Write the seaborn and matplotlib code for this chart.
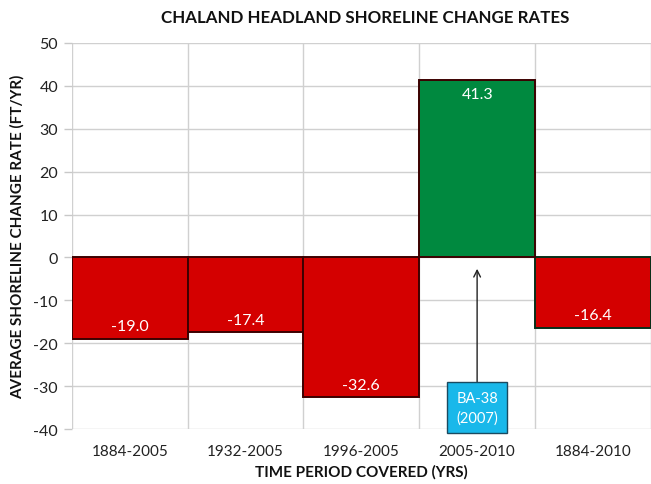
import matplotlib
matplotlib.use("Agg")
import matplotlib.pyplot as plt
import seaborn as sns
import pandas as pd

periods = ["1884-2005", "1932-2005", "1996-2005", "2005-2010", "1884-2010"]
rates = [-19.0, -17.4, -32.6, 41.3, -16.4]
y_ticks = [-40, -30, -20, -10, 0, 10, 20, 30, 40, 50]

title = "CHALAND HEADLAND SHORELINE CHANGE RATES"
x_label = "TIME PERIOD COVERED (YRS)"
y_label = "AVERAGE SHORELINE CHANGE RATE (FT/YR)"
callout_text = "BA-38\n(2007)"
callout_period = "2005-2010"
callout_box_y = -35.0
callout_tip_y = -2.0

RED = "#d40000"
GREEN = "#00893f"
CYAN = "#19b8ea"

df = pd.DataFrame({"period": periods, "rate": rates})
df["sign"] = ["gain" if r > 0 else "loss" for r in rates]

sns.set_theme(style="white")
plt.rcParams["font.family"] = ["Lato", "DejaVu Sans"]

fig = plt.figure(figsize=(6.51, 4.85), dpi=100)
ax = fig.add_axes([0.1106, 0.1134, 0.889, 0.7959])

sns.barplot(data=df, x="period", y="rate", hue="sign",
            palette={"loss": RED, "gain": GREEN}, width=1.0, saturation=1,
            dodge=False, legend=False, ax=ax, zorder=3, linewidth=1.4)

for patch, r in zip(ax.patches, rates):
    patch.set_edgecolor("#06301a" if r > 0 else "#3c0000")

ax.set_ylim(-40, 50)
ax.set_xlim(-0.5, len(periods) - 0.5)
ax.set_yticks(y_ticks)
ax.set_yticklabels([str(t) for t in y_ticks], fontsize=11.5, color="#222222")
ax.set_xticks(range(len(periods)))
ax.set_xticklabels(periods, fontsize=11, color="#222222")
ax.set_xticks([i - 0.5 for i in range(len(periods) + 1)], minor=True)

ax.grid(False)
ax.yaxis.grid(True, color="#d0d0d0", linewidth=1.0, zorder=0)
ax.xaxis.grid(True, which="minor", color="#d0d0d0", linewidth=1.0, zorder=0)
ax.set_axisbelow(True)
for s in ax.spines.values():
    s.set_visible(False)
ax.tick_params(axis="y", which="major", length=6, color="#c8c8c8", width=1, left=True, pad=4)
ax.tick_params(axis="x", which="major", length=0, pad=11)
ax.tick_params(axis="x", which="minor", length=0)

ax.set_xlabel(x_label, fontsize=11, fontweight="bold", labelpad=4, color="#111111")
ax.set_ylabel(y_label, fontsize=11, fontweight="bold", labelpad=6, color="#111111")
fig.text(0.561, 0.962, title, fontsize=12.2, fontweight="bold", ha="center",
         va="center", color="#111111")

# value labels just inside the bar ends
for i, r in enumerate(rates):
    off = -3.3 if r > 0 else 2.9
    ax.text(i, r + off, f"{r:.1f}", ha="center", va="center", fontsize=11.5,
            color="white", zorder=5)

# callout for the BA-38 project
xi = periods.index(callout_period)
ax.annotate("", xy=(xi, callout_tip_y), xytext=(xi, callout_box_y + 5.2),
            arrowprops=dict(arrowstyle="->", color="#222222", lw=1.0), zorder=6)
ax.text(xi, callout_box_y, callout_text, ha="center", va="center", fontsize=10.5,
        color="white", linespacing=1.45, zorder=7,
        bbox=dict(boxstyle="square,pad=0.6", facecolor=CYAN,
                  edgecolor="#1a4a60", linewidth=1.0))

fig.savefig("out.png", dpi=100)
